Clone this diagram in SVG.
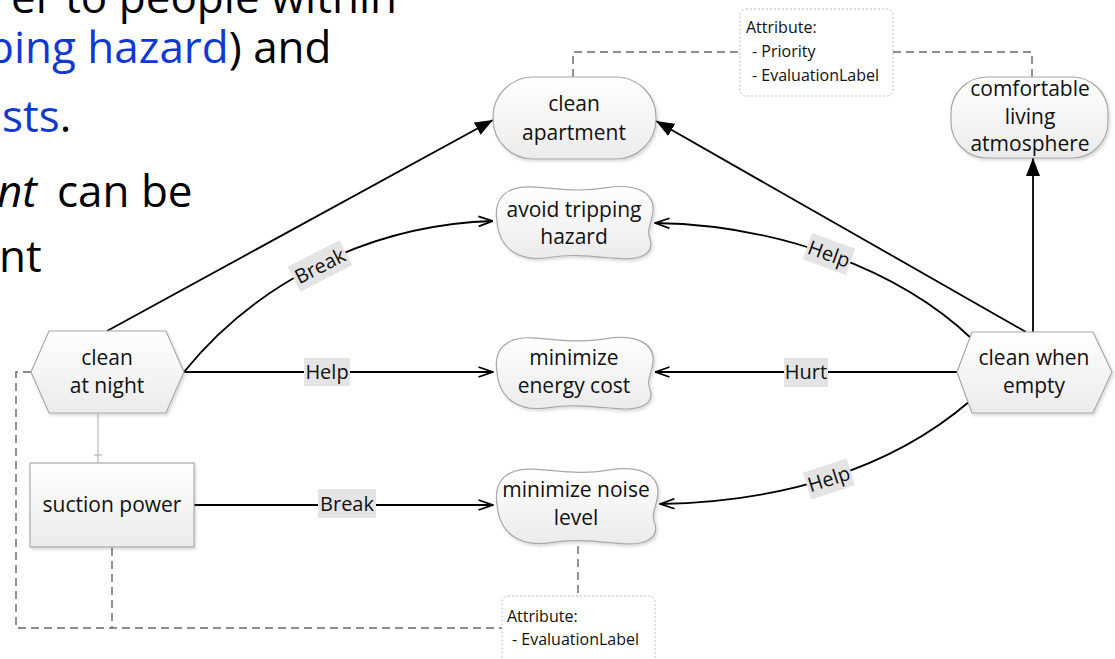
<svg xmlns="http://www.w3.org/2000/svg" xmlns:xlink="http://www.w3.org/1999/xlink" width="1115" height="659" viewBox="0 0 1115 659">
<style>
.slide{font-family:"Open Sans","Noto Sans",sans-serif;font-size:44px;fill:#000}
.blue{fill:#1238d2}
.node{fill:url(#g);stroke:#a8a8a8;stroke-width:1.2;filter:url(#sh)}
.t{font-family:"Open Sans","Noto Sans",sans-serif;font-size:21px;fill:#111;text-anchor:middle}
.attr{fill:#fff;stroke:#bdbdbd;stroke-width:1;stroke-dasharray:2 2}
.at{font-family:"Open Sans","Noto Sans",sans-serif;font-size:16px;fill:#111}
.c{fill:none;stroke:#000;stroke-width:1.8}
.d{fill:none;stroke:#666;stroke-width:1.4;stroke-dasharray:8 5}
.lb{fill:#e4e4e4}
.lt{font-family:"Open Sans","Noto Sans",sans-serif;font-size:20px;fill:#111;text-anchor:middle}
</style>
<defs>
<linearGradient id="g" x1="0" y1="0" x2="0" y2="1">
<stop offset="0" stop-color="#ffffff"/><stop offset="1" stop-color="#ebebeb"/>
</linearGradient>
<filter id="sh" x="-10%" y="-10%" width="130%" height="130%">
<feDropShadow dx="1.5" dy="2" stdDeviation="1.5" flood-color="#000" flood-opacity="0.15"/>
</filter>
<marker id="open" viewBox="0 0 16 12" refX="15.5" refY="6" markerWidth="16" markerHeight="12" markerUnits="userSpaceOnUse" orient="auto">
<path d="M1,1 L15,6 L1,11" fill="none" stroke="#000" stroke-width="1.8"/>
</marker>
<marker id="fill" viewBox="0 0 18 14" refX="18" refY="7" markerWidth="18" markerHeight="14" markerUnits="userSpaceOnUse" orient="auto">
<path d="M0,0 L18,7 L0,14 Z" fill="#000"/>
</marker>
<path id="cloud" d="M4,40 C0,16 14,4 38,5 C62,6 84,11 112,6 C142,1 162,10 160,30 C159,42 153,48 157,58 C162,74 146,80 124,78 C100,76 80,73 56,77 C26,82 6,68 4,40 Z"/>
</defs>

<g id="slide-text">
<text class="slide" x="397" y="13" text-anchor="end">er to people within</text>
<text class="slide" x="-13" y="63"><tspan class="blue">ping hazard</tspan>) and</text>
<text class="slide" x="2" y="132"><tspan class="blue">sts</tspan>.</text>
<text class="slide" x="-3" y="207" font-style="italic">nt</text>
<text class="slide" x="57" y="207">can be</text>
<text class="slide" x="-1" y="272">nt</text>
</g>

<g id="connectors">
<path class="d" d="M573,77 V52 H740"/>
<path class="d" d="M893,52 H1032 V77"/>
<path class="d" d="M31,372 H16 V628 H503"/>
<path class="d" d="M112,548 V628"/>
<path class="d" d="M578,546 V597"/>
<path d="M98,413 V463 M94,455 H102" fill="none" stroke="#aaa" stroke-width="1"/>
<path class="c" d="M107,331 L493,120" marker-end="url(#fill)"/>
<path class="c" d="M1026,332 L656,121" marker-end="url(#fill)"/>
<path class="c" d="M1033,332 L1033,158" marker-end="url(#fill)"/>
<path class="c" d="M184,372 C250,290 360,225 493,221" marker-end="url(#open)"/>
<path class="c" d="M184,372 L493,372" marker-end="url(#open)"/>
<path class="c" d="M194,505 L493,505" marker-end="url(#open)"/>
<path class="c" d="M957,372 L655,372" marker-end="url(#open)"/>
<path class="c" d="M972,339 C900,270 780,225 655,223" marker-end="url(#open)"/>
<path class="c" d="M970,401 C890,470 780,502 660,504" marker-end="url(#open)"/>
<g transform="translate(320,266) rotate(-27)"><rect class="lb" x="-29" y="-14" width="58" height="28"/><text class="lt" x="0" y="7">Break</text></g>
<g transform="translate(327,372)"><rect class="lb" x="-23" y="-14" width="46" height="28"/><text class="lt" x="0" y="7">Help</text></g>
<g transform="translate(347,504)"><rect class="lb" x="-29" y="-15" width="58" height="29"/><text class="lt" x="0" y="7">Break</text></g>
<g transform="translate(806,372)"><rect class="lb" x="-22" y="-14" width="44" height="29"/><text class="lt" x="0" y="7">Hurt</text></g>
<g transform="translate(829,254) rotate(20)"><rect class="lb" x="-23" y="-14" width="46" height="28"/><text class="lt" x="0" y="7">Help</text></g>
<g transform="translate(829,479) rotate(-18)"><rect class="lb" x="-23" y="-14" width="46" height="28"/><text class="lt" x="0" y="7">Help</text></g>
</g>

<g id="attr-top">
<rect class="attr" x="740" y="9" width="153" height="87" rx="6"/>
<text class="at" x="746" y="33">Attribute:</text>
<text class="at" x="752" y="57"> - Priority</text>
<text class="at" x="752" y="81"> - EvaluationLabel</text>
</g>
<g id="attr-bottom">
<rect class="attr" x="502" y="596" width="153" height="75" rx="6"/>
<text class="at" x="507" y="622">Attribute:</text>
<text class="at" x="512" y="645"> - EvaluationLabel</text>
</g>

<g id="clean-apartment">
<rect class="node" x="493" y="77" width="163" height="82" rx="40"/>
<text class="t" x="574" y="111">clean</text>
<text class="t" x="574" y="140">apartment</text>
</g>
<g id="comfortable-living">
<rect class="node" x="951" y="77" width="157" height="81" rx="36"/>
<text class="t" x="1030" y="96">comfortable</text>
<text class="t" x="1030" y="124">living</text>
<text class="t" x="1030" y="151">atmosphere</text>
</g>
<g id="avoid-tripping">
<use xlink:href="#cloud" class="node" transform="translate(493,182) scale(1,0.98)"/>
<text class="t" x="574" y="217">avoid tripping</text>
<text class="t" x="574" y="244">hazard</text>
</g>
<g id="minimize-energy">
<use xlink:href="#cloud" class="node" transform="translate(493,333) scale(1,0.97)"/>
<text class="t" x="574" y="365">minimize</text>
<text class="t" x="574" y="393">energy cost</text>
</g>
<g id="minimize-noise">
<use xlink:href="#cloud" class="node" transform="translate(493,464) scale(1.03,1.02)"/>
<text class="t" x="576" y="497">minimize noise</text>
<text class="t" x="576" y="525">level</text>
</g>
<g id="clean-at-night">
<polygon class="node" points="49,331 166,331 184,372 166,413 49,413 31,372"/>
<text class="t" x="107" y="365">clean</text>
<text class="t" x="107" y="393">at night</text>
</g>
<g id="clean-when-empty">
<polygon class="node" points="972,332 1093,332 1112,372 1093,413 972,413 957,372"/>
<text class="t" x="1034" y="365">clean when</text>
<text class="t" x="1034" y="393">empty</text>
</g>
<g id="suction-power">
<rect class="node" x="30" y="463" width="164" height="84"/>
<text class="t" x="112" y="512">suction power</text>
</g>
</svg>
